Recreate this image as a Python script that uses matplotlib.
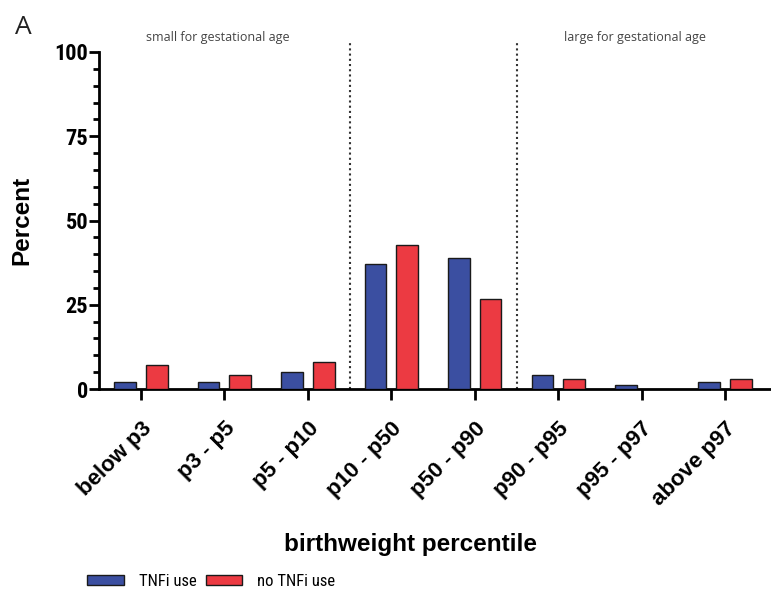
import matplotlib
matplotlib.use("Agg")
import matplotlib.pyplot as plt
from matplotlib.ticker import MultipleLocator
from matplotlib.patches import Patch
from matplotlib import font_manager
import numpy as np

categories = ["below p3", "p3 - p5", "p5 - p10", "p10 - p50", "p50 - p90",
              "p90 - p95", "p95 - p97", "above p97"]
tnfi_use = [2.2, 2.2, 5.1, 37.0, 38.8, 4.1, 1.2, 2.2]
no_tnfi_use = [7.1, 4.1, 8.1, 42.7, 26.7, 3.1, 0.0, 3.1]
yticks = [0, 25, 50, 75, 100]

BLUE = "#3b4fa1"
RED = "#ec3a42"
FONT = ["Liberation Sans", "DejaVu Sans"]
plt.rcParams["font.family"] = FONT

# look for a condensed sans face if one is installed
names = {f.name for f in font_manager.fontManager.ttflist}
narrow_name = None
for cand in ["Liberation Sans Narrow", "Arial Narrow", "Roboto Condensed",
             "Open Sans Condensed", "DejaVu Sans Condensed"]:
    if cand in names:
        narrow_name = cand
        break
if narrow_name:
    NARROW = dict(family=[narrow_name, "Liberation Sans"], stretch="normal")
    ysize, legsize = 16, 12
else:
    NARROW = dict(family=FONT, stretch="normal")
    ysize, legsize = 13, 10

fig = plt.figure(figsize=(7.71, 5.94), dpi=100)
ax = fig.add_axes([0.1288, 1 - 389 / 594, 1 - 0.1288, (389 - 52) / 594])

x = np.arange(len(categories))
w = 0.26
off = 0.19
ax.bar(x - off, tnfi_use, width=w, color=BLUE, edgecolor="#1a1a1a", linewidth=1.0,
       label="TNFi use", zorder=3)
ax.bar(x + off, no_tnfi_use, width=w, color=RED, edgecolor="#1a1a1a", linewidth=1.0,
       label="no TNFi use", zorder=3)

ax.set_xlim(-0.5, 7.55)
ax.set_ylim(0, 100)
ax.set_yticks(yticks)
ax.yaxis.set_minor_locator(MultipleLocator(5))
ax.set_xticks(x)
ax.set_xticklabels(categories, rotation=45, ha="right", rotation_mode="anchor",
                   fontsize=16, fontweight="bold")
for lab in ax.get_yticklabels():
    lab.set_fontweight("bold")
    lab.set_fontsize(ysize)
    lab.set_family(NARROW["family"])

for side in ["top", "right"]:
    ax.spines[side].set_visible(False)
for side in ["left", "bottom"]:
    ax.spines[side].set_linewidth(2.0)
    ax.spines[side].set_color("black")

ax.tick_params(axis="y", which="major", length=7, width=2.0, pad=1)
ax.tick_params(axis="y", which="minor", length=4, width=2.0)
ax.tick_params(axis="x", which="major", length=8, width=2.0, pad=13)

# dotted separators
for xs in [2.5, 4.5]:
    ax.plot([xs, xs], [0, 102.8], linestyle=(0, (1, 1.5)), color="#333333",
            linewidth=1.5, clip_on=False, zorder=2)

ax.text(0.92, 103.3, "small for gestational age", ha="center", va="baseline",
        fontsize=9, color="#444444", family=["Open Sans", "DejaVu Sans"])
ax.text(5.92, 103.3, "large for gestational age", ha="center", va="baseline",
        fontsize=9, color="#444444", family=["Open Sans", "DejaVu Sans"])

ax.set_ylabel("Percent", fontsize=17.5, fontweight="bold")
ax.set_xlabel("birthweight percentile", fontsize=17.5, fontweight="bold")
ax.xaxis.set_label_coords((410 - 99.3) / (771 - 99.3), -(533 - 389) / (389 - 52))
ax.yaxis.set_label_coords(-(99.3 - 33) / (771 - 99.3), 0.5)

fig.text(15 / 771, 1 - 34 / 594, "A", fontsize=19, color="#222222",
         family=["Open Sans", "DejaVu Sans"])

handles = [Patch(facecolor=BLUE, edgecolor="#1a1a1a", linewidth=1.0),
           Patch(facecolor=RED, edgecolor="#1a1a1a", linewidth=1.0)]
leg = fig.legend(handles, ["TNFi use", "no TNFi use"], loc="center left",
                 bbox_to_anchor=(72 / 771, 1 - 581 / 594), ncol=2, frameon=False,
                 handlelength=2.2, handleheight=0.55, columnspacing=0.55,
                 handletextpad=0.9,
                 prop={"family": NARROW["family"], "size": legsize})

fig.savefig("out.png", dpi=100)
